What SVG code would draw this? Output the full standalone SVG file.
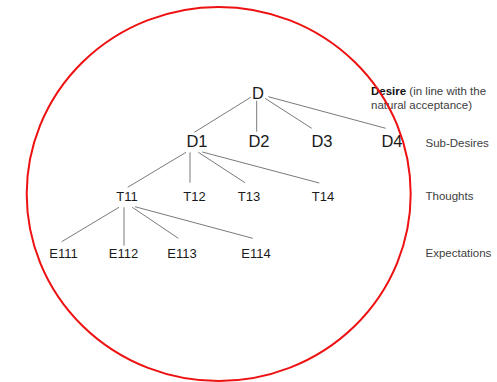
<svg xmlns="http://www.w3.org/2000/svg" width="497" height="382" viewBox="0 0 497 382">
  <style>
    .node { font-family: "Liberation Sans", Arial, sans-serif; fill: #1a1a1a; text-anchor: middle; }
    .lvl1 { font-size: 16.5px; }
    .lvl2 { font-size: 13px; }
    .label { font-family: "Liberation Sans", Arial, sans-serif; font-size: 11.5px; fill: #404040; }
    .edges line { stroke: #7a7a7a; stroke-width: 1; }
  </style>
  <rect width="497" height="382" fill="#ffffff"/>

  <!-- tree connectors -->
  <g id="connectors" class="edges">
    <line x1="250.7" y1="97.3" x2="194.3" y2="132.3"/>
    <line x1="256.7" y1="100.7" x2="256.7" y2="131.7"/>
    <line x1="265" y1="98.3" x2="311.7" y2="128.3"/>
    <line x1="268.3" y1="96.7" x2="385.7" y2="128.3"/>
    <line x1="186" y1="152.3" x2="127.7" y2="187.3"/>
    <line x1="190" y1="152.3" x2="190" y2="182.7"/>
    <line x1="198.3" y1="152.3" x2="245" y2="182.7"/>
    <line x1="202.3" y1="152" x2="319.3" y2="183"/>
    <line x1="119" y1="207.3" x2="61.7" y2="241.7"/>
    <line x1="124" y1="207.3" x2="124" y2="245.7"/>
    <line x1="132.3" y1="207.3" x2="178.3" y2="238.3"/>
    <line x1="135" y1="206.7" x2="252.7" y2="238.3"/>
  </g>

  <!-- nodes -->
  <g id="node-D"><text class="node lvl1" x="258" y="99">D</text></g>
  <g id="node-D1"><text class="node lvl1" x="197" y="147">D1</text></g>
  <g id="node-D2"><text class="node lvl1" x="259" y="147">D2</text></g>
  <g id="node-D3"><text class="node lvl1" x="322" y="147">D3</text></g>
  <g id="node-D4"><text class="node lvl1" x="392" y="147">D4</text></g>
  <g id="node-T11"><text class="node lvl2" x="127" y="200.5">T11</text></g>
  <g id="node-T12"><text class="node lvl2" x="194.5" y="200.5">T12</text></g>
  <g id="node-T13"><text class="node lvl2" x="249" y="200.5">T13</text></g>
  <g id="node-T14"><text class="node lvl2" x="323" y="200.5">T14</text></g>
  <g id="node-E111"><text class="node lvl2" x="63.5" y="257.5">E111</text></g>
  <g id="node-E112"><text class="node lvl2" x="123.5" y="257.5">E112</text></g>
  <g id="node-E113"><text class="node lvl2" x="182" y="257.5">E113</text></g>
  <g id="node-E114"><text class="node lvl2" x="256" y="257.5">E114</text></g>

  <!-- level captions -->
  <g id="captions">
    <text class="label" x="371" y="95"><tspan font-weight="bold" fill="#111">Desire</tspan> (in line with the</text>
    <text class="label" x="371" y="109">natural acceptance)</text>
    <text class="label" x="425.5" y="147">Sub-Desires</text>
    <text class="label" x="425.5" y="199.5">Thoughts</text>
    <text class="label" x="425.5" y="256.5">Expectations</text>
  </g>

  <!-- enclosing boundary -->
  <g id="boundary">
    <ellipse cx="218.7" cy="194" rx="192" ry="187" fill="none" stroke="#ee1111" stroke-width="2"/>
  </g>
</svg>
